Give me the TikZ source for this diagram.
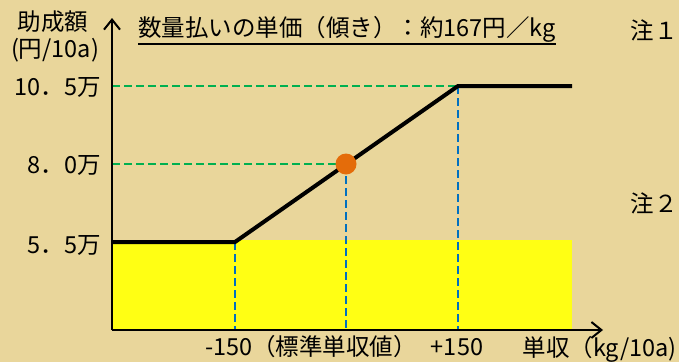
\documentclass[tikz,border=0pt]{standalone}
\usepackage{fontspec}
\setmainfont{Noto Sans CJK JP}
\usetikzlibrary{positioning,arrows.meta}
\definecolor{bgtan}{RGB}{233,214,155}
\definecolor{fillyel}{RGB}{255,255,20}
\definecolor{grn}{RGB}{0,176,80}
\definecolor{blu}{RGB}{0,112,192}
\definecolor{org}{RGB}{228,108,10}
\tikzset{
  lbl/.style={font=\fontsize{23.5}{26}\selectfont,inner sep=0pt},
  grndash/.style={grn,line width=2.5pt,dash pattern=on 8pt off 4pt},
  bludash/.style={blu,line width=2.5pt,dash pattern=on 8pt off 4pt},
  axis/.style={line width=2.5pt,-{Straight Barb[length=10pt,width=16pt,line width=2pt]}}
}
\begin{document}
\begin{tikzpicture}
  [x=1pt,y=-1pt,every node/.style={lbl}]
  \useasboundingbox (0,0) rectangle (679,362);
  \fill[bgtan] (0,0) rectangle (679,362);
  \fill[fillyel] (112,240) rectangle (572,330);

  \coordinate (o) at (112,330);
  \coordinate (ytop) at (112,18);
  \coordinate (xend) at (603,330);
  \coordinate (y1) at (112,242);
  \coordinate (y2) at (112,164);
  \coordinate (y3) at (112,86);
  \coordinate (p1) at (235,242);
  \coordinate (p2) at (346,164);
  \coordinate (p3) at (458,86);
  \coordinate (r3) at (572,86);

  % guide lines
  \draw[grndash] (y3) -- (p3);
  \draw[grndash] (y2) -- (p2);
  \foreach \p in {p1,p2,p3}
    \draw[bludash] (\p) -- (\p |- o);

  % payment curve
  \draw[line width=4pt] (y1) -- (p1) -- (p3) -- (r3);
  \fill[org] (p2) circle (10.5pt);

  % axes
  \draw[axis] (o) -- (ytop);
  \draw[axis] (o) -- (xend);

  % labels
  \node (ylab) at (53,22) {助成額};
  \node (yunit) at (55,50) {(円/10a)};
  \node[anchor=east] (v3) at (101,87) {10．5万};
  \node[anchor=east] (v2) at (101,165) {8．0万};
  \node[anchor=east] (v1) at (101,245) {5．5万};
  \node (title) at (347,29) {数量払いの単価（傾き）：約167円／kg};
  \draw[line width=1.5pt] ([yshift=-2pt]title.south west) -- ([yshift=-2pt]title.south east);
  \node[anchor=east] (n1) at (678,30) {注１};
  \node[anchor=east] (n2) at (678,203) {注２};
  \node (t1) at (311,347) {-150（標準単収値）};
  \node (t2) at (457,347) {+150};
  \node[anchor=east] (xlab) at (677,349) {単収（kg/10a)};
\end{tikzpicture}
\end{document}
